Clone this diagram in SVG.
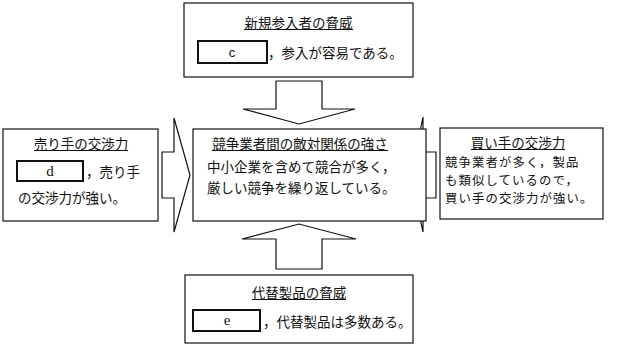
<svg xmlns="http://www.w3.org/2000/svg" width="622" height="350" viewBox="0 0 622 350">
<style>
.box{fill:#fff;stroke:#111;stroke-width:1.2}
.blank{fill:#fff;stroke:#111;stroke-width:2}
.arrow{fill:#fff;stroke:#111;stroke-width:1.2;stroke-linejoin:miter}
.ul{stroke:#111;stroke-width:1}
text{font-family:"Noto Sans CJK JP","Noto Sans",sans-serif;font-size:13.5px;fill:#111;dominant-baseline:central}
.t{text-anchor:middle}
.sm{font-size:12.4px;letter-spacing:1.1px}
.lat{font-family:"Liberation Serif",serif;font-size:15px;text-anchor:middle}
.lats{font-family:"Liberation Sans",sans-serif;font-size:13px;text-anchor:middle}
</style>
<rect width="622" height="350" fill="#fff"/>
<g id="connectors">
<polygon class="arrow" points="276,81 322,81 322,109 355,109 299,124 243,109 276,109"/>
<polygon class="arrow" points="276,269 322,269 322,239 356,239 299,224 242,239 276,239"/>
<polygon class="arrow" points="162,152 174,152 174,118 190,175 174,232 174,198 162,198"/>
<polygon class="arrow" points="436,152 423,152 423,117 411,175 423,232 423,198 436,198"/>
</g>
<g id="new-entrants">
<rect class="box" x="184" y="3" width="229" height="74"/>
<text class="t" x="298.5" y="22">新規参入者の脅威</text>
<line class="ul" x1="244" y1="29.5" x2="353" y2="29.5"/>
<rect class="blank" x="198" y="41" width="69" height="22"/>
<text class="lats" x="232" y="52">c</text>
<text x="268" y="52">，参入が容易である。</text>
</g>
<g id="suppliers">
<rect class="box" x="3" y="129" width="155" height="92"/>
<text class="t" x="81" y="143">売り手の交渉力</text>
<line class="ul" x1="34" y1="150.5" x2="128" y2="150.5"/>
<rect class="blank" x="17" y="161" width="66" height="20"/>
<text class="lat" x="50" y="171">d</text>
<text x="86" y="171">，売り手</text>
<text x="18" y="197">の交渉力が強い。</text>
</g>
<g id="rivalry">
<rect class="box" x="193" y="129" width="233" height="92"/>
<text class="t" x="300" y="143">競争業者間の敵対関係の強さ</text>
<line class="ul" x1="212" y1="150.5" x2="388" y2="150.5"/>
<text x="207" y="166">中小企業を含めて競合が多く，</text>
<text x="207" y="187">厳しい競争を繰り返している。</text>
</g>
<g id="buyers">
<rect class="box" x="440" y="128" width="163" height="91"/>
<text class="t" x="518" y="142">買い手の交渉力</text>
<line class="ul" x1="471" y1="149.5" x2="565" y2="149.5"/>
<text class="sm" x="445" y="162">競争業者が多く，製品</text>
<text class="sm" x="445" y="180">も類似しているので，</text>
<text class="sm" x="445" y="198">買い手の交渉力が強い。</text>
</g>
<g id="substitutes">
<rect class="box" x="185" y="275" width="228" height="68"/>
<text class="t" x="299" y="292">代替製品の脅威</text>
<line class="ul" x1="252" y1="299.5" x2="346" y2="299.5"/>
<rect class="blank" x="193" y="310" width="67" height="21"/>
<text class="lat" x="227" y="320">e</text>
<text x="263" y="321">，代替製品は多数ある。</text>
</g>
</svg>
